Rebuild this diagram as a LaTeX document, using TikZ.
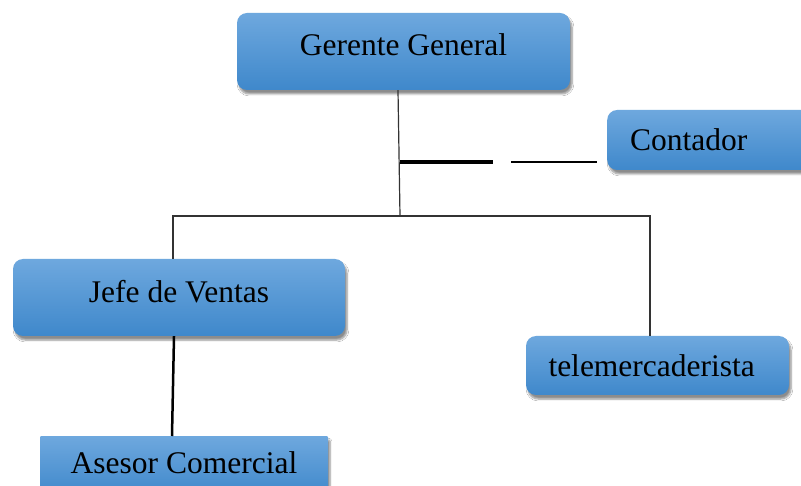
\documentclass[tikz,border=0pt]{standalone}
\usepackage{fontspec}
\setmainfont{Liberation Serif}
\usetikzlibrary{shadows.blur}
\definecolor{boxtop}{HTML}{6EA8DE}
\definecolor{boxbot}{HTML}{3F88CB}
\tikzset{
  orgbox/.style={rectangle, rounded corners=10pt, top color=boxtop, bottom color=boxbot,
    draw=none, inner sep=0pt, font=\fontsize{31.5}{36}\selectfont, text=black,
    blur shadow={shadow xshift=2pt, shadow yshift=-4pt, shadow blur steps=6, shadow opacity=45}},
  thinline/.style={draw=black!80, line width=1.2pt},
}
\begin{document}
\begin{tikzpicture}[x=1pt,y=-1pt]
\useasboundingbox (0,0) rectangle (801,486);
\clip (0,0) rectangle (801,486);
\fill[white] (0,0) rectangle (801,486);
% boxes
\node[orgbox, minimum width=333pt, minimum height=77pt, text height=22pt, text depth=13pt] (gerente) at (403.5,51.5) {Gerente General};
\node[orgbox, anchor=west, minimum width=210pt, minimum height=60pt, text width=164pt, align=left, inner xsep=23pt] (contador) at (607,140) {Contador};
\node[orgbox, minimum width=332pt, minimum height=77pt, text height=22pt, text depth=12pt] (jefe) at (179,297.5) {Jefe de Ventas};
\node[orgbox, minimum width=263pt, minimum height=59pt, text width=240pt, align=left, inner xsep=0pt] (tele) at (657.5,365.5) {\hspace*{11pt}telemercaderista};
\node[orgbox, rounded corners=1pt, anchor=north, minimum width=288pt, minimum height=60pt, text height=22pt, text depth=8pt] (asesor) at (184,436) {Asesor Comercial};
% connectors
\coordinate (j) at (400,216);
\coordinate (m1) at (493,162);
\coordinate (m2) at (511,162);
\draw[thinline] ([xshift=-5.5pt]gerente.south) -- (j);
\draw[thinline] ([xshift=-6pt]jefe.north) |- (j) -| ([xshift=-7.5pt]tele.north);
\draw[line width=3.5pt] (j |- m1) -- (m1);
\draw[line width=2pt] (m2) -- ([xshift=-10pt]m2 -| contador.west);
\draw[line width=2.5pt] ([xshift=-5pt]jefe.south) -- ([xshift=-12pt]asesor.north);
\end{tikzpicture}
\end{document}
